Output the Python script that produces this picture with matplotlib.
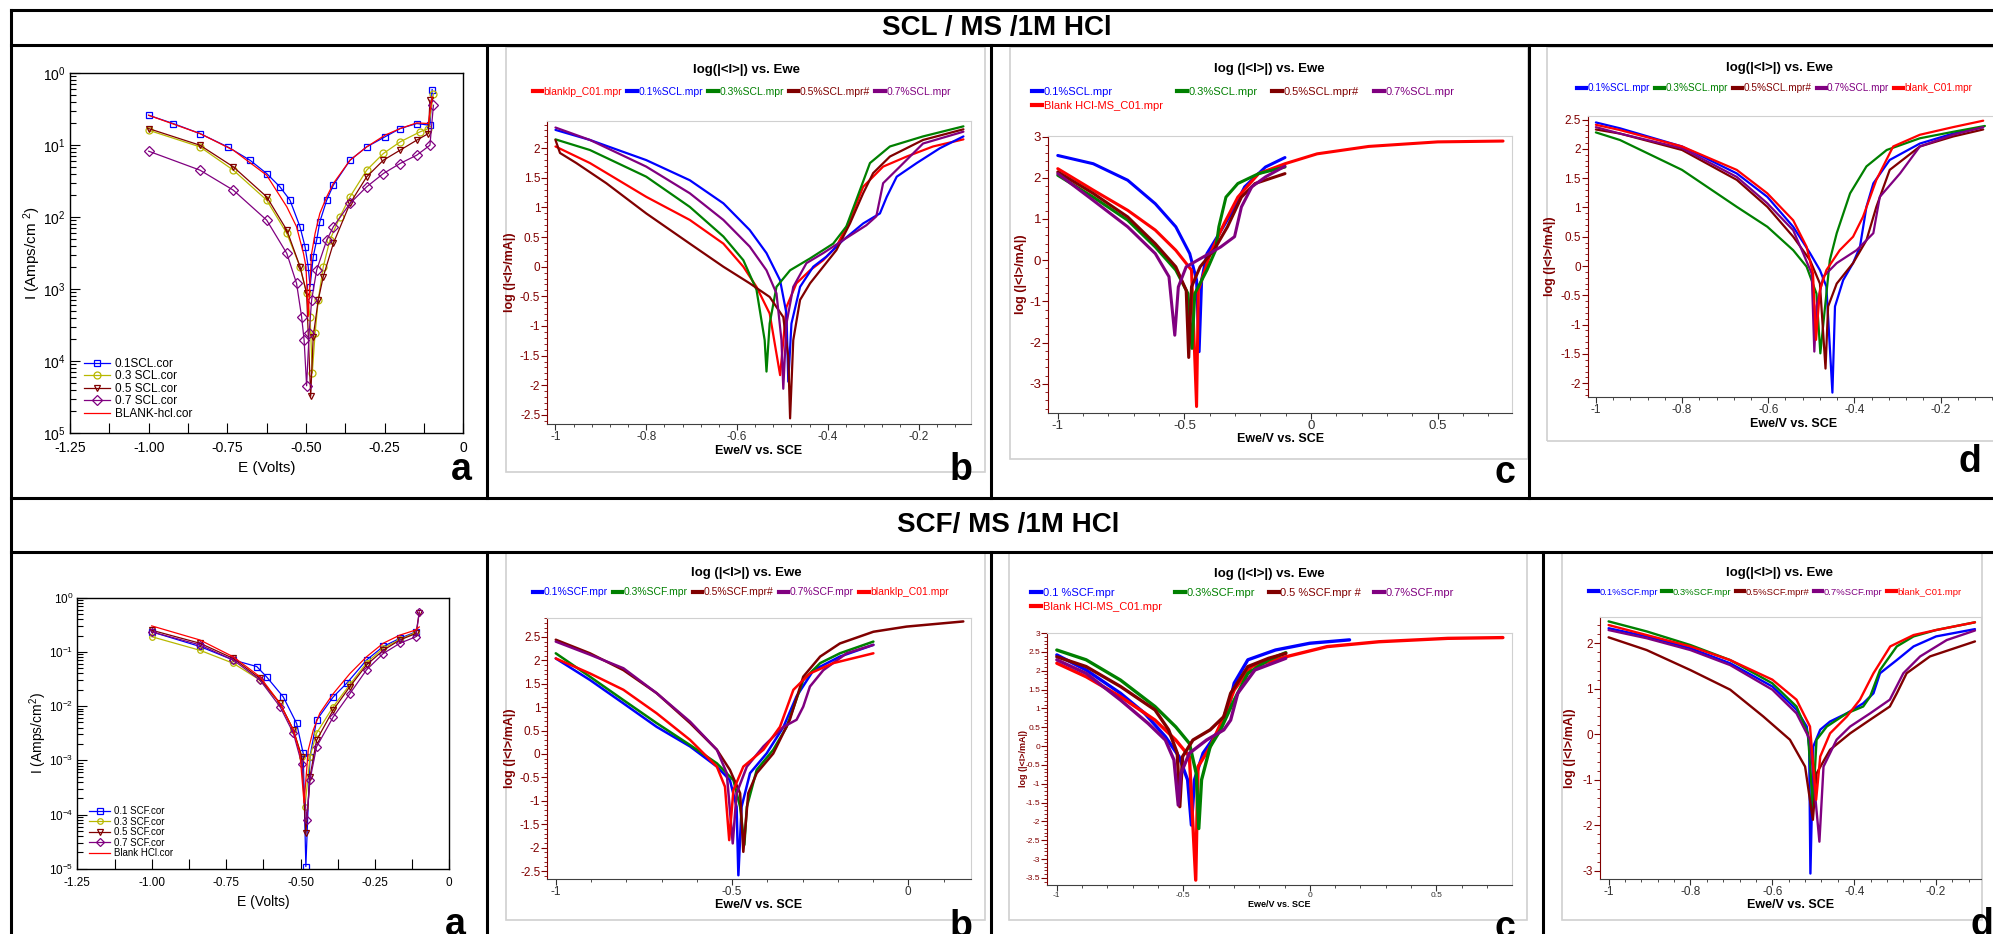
import matplotlib
matplotlib.use("Agg")
import matplotlib.pyplot as plt
from matplotlib.lines import Line2D
from matplotlib.patches import Rectangle
from matplotlib.ticker import AutoMinorLocator, FuncFormatter, LogLocator, NullFormatter

plt.rcParams['font.family'] = ['Liberation Sans', 'DejaVu Sans']
plt.rcParams['mathtext.default'] = 'regular'
NARROW = ['Liberation Sans', 'DejaVu Sans']

BLUE, GREEN, DRED, PURPLE, RED, OLIVE = '#0000ff', '#008000', '#800000', '#800080', '#ff0000', '#b8b800'

# ---------------- data: E (V) and log10 current ----------------
# row 1, panel a (SCL, .cor files, log10 of A/cm2)
a1_blue_E = [-1.000, -0.922, -0.837, -0.749, -0.678, -0.625, -0.583, -0.551, -0.519, -0.503, -0.493, -0.487, -0.477, -0.466, -0.456, -0.434, -0.413, -0.360, -0.307, -0.249, -0.201, -0.148, -0.106, -0.099]
a1_blue_L = [-0.587, -0.702, -0.841, -1.026, -1.211, -1.396, -1.580, -1.765, -2.135, -2.412, -2.689, -2.967, -2.551, -2.320, -2.066, -1.765, -1.557, -1.211, -1.026, -0.887, -0.772, -0.702, -0.726, -0.231]
a1_olive_E = [-1.000, -0.837, -0.731, -0.625, -0.561, -0.519, -0.498, -0.487, -0.480, -0.471, -0.461, -0.445, -0.424, -0.392, -0.360, -0.307, -0.254, -0.201, -0.138, -0.111, -0.095]
a1_olive_L = [-0.795, -1.026, -1.349, -1.765, -2.227, -2.689, -3.059, -3.383, -4.168, -3.614, -3.152, -2.689, -2.320, -1.996, -1.719, -1.349, -1.118, -0.957, -0.818, -0.772, -0.287]
a1_dred_E = [-1.000, -0.837, -0.731, -0.625, -0.561, -0.519, -0.498, -0.485, -0.477, -0.461, -0.445, -0.413, -0.360, -0.307, -0.254, -0.201, -0.148, -0.111, -0.106]
a1_dred_L = [-0.772, -1.003, -1.303, -1.719, -2.181, -2.689, -3.059, -4.492, -3.660, -3.152, -2.828, -2.366, -1.811, -1.442, -1.211, -1.072, -0.933, -0.841, -0.379]
a1_purple_E = [-1.000, -0.837, -0.731, -0.625, -0.561, -0.530, -0.514, -0.506, -0.498, -0.490, -0.482, -0.466, -0.434, -0.413, -0.360, -0.307, -0.254, -0.201, -0.148, -0.106, -0.095]
a1_purple_L = [-1.086, -1.349, -1.627, -2.043, -2.505, -2.921, -3.383, -3.706, -4.344, -3.614, -3.152, -2.736, -2.320, -2.135, -1.811, -1.580, -1.396, -1.257, -1.141, -1.003, -0.448]
a1_red_E = [-1.000, -0.837, -0.731, -0.625, -0.561, -0.530, -0.508, -0.500, -0.493, -0.482, -0.471, -0.456, -0.434, -0.413, -0.360, -0.307, -0.249, -0.201, -0.148, -0.111, -0.099]
a1_red_L = [-0.587, -0.841, -1.072, -1.419, -1.858, -2.135, -2.505, -2.689, -3.383, -2.505, -2.227, -1.950, -1.719, -1.534, -1.211, -1.026, -0.864, -0.772, -0.693, -0.702, -0.333]
a1_labels = ['0.1SCL.cor', '0.3 SCL.cor', '0.5 SCL.cor', '0.7 SCL.cor', 'BLANK-hcl.cor']
a1_ylabels = ['10$^{5}$', '10$^{4}$', '10$^{3}$', '10$^{2}$', '10$^{1}$', '10$^{0}$']

# row 1, panel b (log(|I|/mA))
b1_red_E = [-1, -0.924, -0.8, -0.704, -0.630, -0.586, -0.557, -0.528, -0.505, -0.491, -0.469, -0.439, -0.410, -0.381, -0.351, -0.322, -0.278, -0.226, -0.168, -0.101]
b1_red_L = [2.03, 1.75, 1.18, 0.79, 0.39, 0.0, -0.34, -0.79, -1.83, -0.68, -0.28, -0.06, 0.11, 0.34, 0.79, 1.35, 1.69, 1.86, 2.03, 2.15]
b1_blue_E = [-1, -0.924, -0.8, -0.704, -0.630, -0.572, -0.535, -0.505, -0.491, -0.487, -0.480, -0.461, -0.432, -0.403, -0.366, -0.322, -0.285, -0.270, -0.248, -0.204, -0.153, -0.101]
b1_blue_L = [2.31, 2.14, 1.80, 1.46, 1.07, 0.62, 0.23, -0.23, -0.79, -1.94, -0.96, -0.34, 0.0, 0.17, 0.45, 0.73, 0.90, 1.18, 1.52, 1.75, 2.0, 2.20]
b1_green_E = [-1, -0.924, -0.8, -0.704, -0.630, -0.586, -0.557, -0.539, -0.535, -0.528, -0.513, -0.483, -0.439, -0.388, -0.359, -0.337, -0.307, -0.263, -0.190, -0.101]
b1_green_L = [2.15, 1.97, 1.52, 1.01, 0.51, 0.11, -0.39, -1.24, -1.77, -0.96, -0.34, -0.06, 0.14, 0.39, 0.68, 1.13, 1.75, 2.03, 2.20, 2.37]
b1_dred_E = [-1, -0.990, -0.954, -0.888, -0.8, -0.704, -0.630, -0.572, -0.528, -0.498, -0.487, -0.483, -0.476, -0.461, -0.439, -0.410, -0.381, -0.351, -0.322, -0.300, -0.263, -0.190, -0.101]
b1_dred_L = [2.14, 1.92, 1.75, 1.41, 0.90, 0.39, 0.0, -0.28, -0.51, -0.85, -1.52, -2.56, -1.24, -0.56, -0.28, 0.0, 0.28, 0.73, 1.24, 1.58, 1.86, 2.14, 2.32]
b1_purple_E = [-1, -0.924, -0.8, -0.704, -0.630, -0.572, -0.535, -0.513, -0.502, -0.498, -0.491, -0.476, -0.447, -0.410, -0.366, -0.315, -0.293, -0.278, -0.241, -0.190, -0.101]
b1_purple_L = [2.35, 2.14, 1.69, 1.24, 0.79, 0.34, -0.06, -0.45, -1.24, -2.06, -0.96, -0.34, 0.06, 0.23, 0.45, 0.70, 0.85, 1.41, 1.69, 2.08, 2.28]
b1_labels = ['blanklp_C01.mpr', '0.1%SCL.mpr', '0.3%SCL.mpr', '0.5%SCL.mpr#', '0.7%SCL.mpr']

# row 1, panel c
c1_blue_E = [-1, -0.860, -0.724, -0.615, -0.534, -0.479, -0.452, -0.442, -0.432, -0.411, -0.370, -0.316, -0.262, -0.180, -0.103]
c1_blue_L = [2.54, 2.34, 1.94, 1.37, 0.81, 0.16, -0.48, -2.22, -0.48, 0.16, 0.57, 1.13, 1.78, 2.26, 2.49]
c1_green_E = [-1, -0.860, -0.724, -0.615, -0.534, -0.486, -0.470, -0.459, -0.411, -0.377, -0.364, -0.336, -0.289, -0.207, -0.103]
c1_green_L = [2.06, 1.53, 0.97, 0.32, -0.24, -0.81, -2.14, -0.81, -0.24, 0.24, 0.81, 1.53, 1.86, 2.10, 2.26]
c1_dred_E = [-1, -0.860, -0.724, -0.615, -0.534, -0.493, -0.483, -0.472, -0.438, -0.384, -0.330, -0.275, -0.221, -0.103]
c1_dred_L = [2.14, 1.62, 1.05, 0.40, -0.16, -0.73, -2.36, -0.65, -0.16, 0.24, 0.81, 1.53, 1.86, 2.10]
c1_purple_E = [-1, -0.860, -0.724, -0.615, -0.561, -0.538, -0.524, -0.493, -0.425, -0.357, -0.302, -0.275, -0.234, -0.180, -0.103]
c1_purple_L = [2.10, 1.45, 0.81, 0.16, -0.40, -1.82, -0.65, -0.16, 0.08, 0.32, 0.57, 1.29, 1.78, 2.02, 2.28]
c1_red_E = [-1, -0.860, -0.724, -0.615, -0.534, -0.472, -0.452, -0.445, -0.398, -0.343, -0.289, -0.207, -0.103, 0.024, 0.228, 0.500, 0.758]
c1_red_L = [2.22, 1.70, 1.21, 0.73, 0.24, -0.24, -3.55, -0.73, 0.16, 0.89, 1.53, 2.10, 2.34, 2.58, 2.76, 2.87, 2.89]
c1_labels = ['0.1%SCL.mpr', 'Blank HCl-MS_C01.mpr', '0.3%SCL.mpr', '0.5%SCL.mpr#', '0.7%SCL.mpr']

# row 1, panel d
d1_blue_E = [-1, -0.944, -0.8, -0.673, -0.602, -0.542, -0.503, -0.480, -0.465, -0.451, -0.445, -0.426, -0.403, -0.387, -0.372, -0.356, -0.318, -0.248, -0.171, -0.101]
d1_blue_L = [2.45, 2.35, 2.04, 1.58, 1.18, 0.67, 0.22, -0.07, -0.35, -2.16, -0.69, -0.24, 0.05, 0.33, 1.01, 1.41, 1.81, 2.09, 2.26, 2.37]
d1_green_E = [-1, -0.944, -0.8, -0.673, -0.602, -0.542, -0.511, -0.488, -0.479, -0.468, -0.457, -0.441, -0.410, -0.372, -0.325, -0.248, -0.171, -0.097]
d1_green_L = [2.28, 2.15, 1.64, 1.01, 0.67, 0.27, -0.01, -0.47, -1.49, -0.69, 0.10, 0.56, 1.24, 1.70, 1.98, 2.18, 2.29, 2.39]
d1_dred_E = [-1, -0.944, -0.8, -0.673, -0.602, -0.542, -0.503, -0.480, -0.467, -0.461, -0.441, -0.403, -0.372, -0.349, -0.318, -0.248, -0.171, -0.101]
d1_dred_L = [2.33, 2.26, 1.98, 1.47, 1.01, 0.50, 0.10, -0.30, -1.75, -0.69, -0.30, 0.05, 0.44, 1.01, 1.64, 2.04, 2.21, 2.33]
d1_purple_E = [-1, -0.944, -0.8, -0.673, -0.602, -0.542, -0.519, -0.499, -0.493, -0.488, -0.472, -0.441, -0.395, -0.356, -0.341, -0.294, -0.248, -0.171, -0.101]
d1_purple_L = [2.37, 2.26, 2.01, 1.52, 1.07, 0.61, 0.22, -0.13, -1.46, -0.69, -0.18, 0.05, 0.27, 0.56, 1.18, 1.58, 2.04, 2.24, 2.37]
d1_red_E = [-1, -0.944, -0.8, -0.673, -0.602, -0.542, -0.511, -0.496, -0.489, -0.480, -0.465, -0.434, -0.403, -0.380, -0.349, -0.310, -0.248, -0.171, -0.101]
d1_red_L = [2.41, 2.32, 2.04, 1.64, 1.24, 0.78, 0.33, -0.13, -1.26, -0.41, -0.07, 0.27, 0.50, 0.84, 1.47, 2.04, 2.24, 2.37, 2.48]
d1_labels = ['0.1%SCL.mpr', '0.3%SCL.mpr', '0.5%SCL.mpr#', '0.7%SCL.mpr', 'blank_C01.mpr']

# row 2, panel a (SCF, .cor files)
a2_blue_E = [-1.0, -0.838, -0.726, -0.647, -0.614, -0.558, -0.513, -0.491, -0.482, -0.468, -0.446, -0.390, -0.345, -0.278, -0.222, -0.166, -0.112]
a2_blue_L = [-0.63, -0.90, -1.15, -1.27, -1.46, -1.83, -2.32, -2.87, -4.96, -2.93, -2.26, -1.83, -1.58, -1.15, -0.90, -0.75, -0.63]
a2_olive_E = [-1.0, -0.838, -0.726, -0.636, -0.569, -0.524, -0.496, -0.485, -0.468, -0.446, -0.390, -0.334, -0.278, -0.222, -0.166, -0.112]
a2_olive_L = [-0.72, -0.97, -1.21, -1.52, -1.95, -2.44, -2.93, -3.86, -2.93, -2.50, -2.01, -1.60, -1.20, -0.93, -0.77, -0.64]
a2_dred_E = [-1.0, -0.838, -0.726, -0.636, -0.569, -0.524, -0.496, -0.482, -0.468, -0.446, -0.390, -0.334, -0.278, -0.222, -0.166, -0.112, -0.101]
a2_dred_L = [-0.60, -0.84, -1.12, -1.49, -1.95, -2.44, -2.93, -4.35, -3.30, -2.63, -2.07, -1.64, -1.24, -0.97, -0.78, -0.66, -0.28]
a2_purple_E = [-1.0, -0.838, -0.726, -0.636, -0.569, -0.524, -0.496, -0.479, -0.468, -0.446, -0.390, -0.334, -0.278, -0.222, -0.166, -0.112, -0.101]
a2_purple_L = [-0.63, -0.87, -1.15, -1.52, -2.01, -2.50, -3.06, -4.10, -3.36, -2.75, -2.20, -1.77, -1.33, -1.03, -0.84, -0.72, -0.26]
a2_red_E = [-1.0, -0.838, -0.726, -0.636, -0.569, -0.524, -0.502, -0.488, -0.474, -0.457, -0.435, -0.390, -0.334, -0.278, -0.222, -0.166, -0.115, -0.101]
a2_red_L = [-0.52, -0.78, -1.09, -1.46, -1.95, -2.44, -2.87, -3.79, -2.81, -2.44, -2.13, -1.77, -1.40, -1.09, -0.84, -0.69, -0.60, -0.54]
a2_labels = ['0.1 SCF.cor', '0.3 SCF.cor', '0.5 SCF.cor', '0.7 SCF.cor', 'Blank HCl.cor']
a2_ylabels = ['10$^{-5}$', '10$^{-4}$', '10$^{-3}$', '10$^{-2}$', '10$^{-1}$', '10$^{0}$']

# row 2, panel b
b2_blue_E = [-1, -0.903, -0.808, -0.714, -0.619, -0.543, -0.506, -0.487, -0.482, -0.473, -0.449, -0.402, -0.354, -0.317, -0.269, -0.194, -0.099]
b2_blue_L = [2.04, 1.58, 1.08, 0.58, 0.16, -0.27, -0.56, -1.13, -2.59, -1.13, -0.41, 0.01, 0.58, 1.23, 1.79, 2.08, 2.33]
b2_green_E = [-1, -0.903, -0.808, -0.714, -0.619, -0.543, -0.496, -0.477, -0.465, -0.458, -0.430, -0.383, -0.345, -0.298, -0.250, -0.194, -0.099]
b2_green_L = [2.15, 1.65, 1.15, 0.66, 0.19, -0.20, -0.56, -1.13, -1.94, -1.13, -0.34, 0.09, 0.58, 1.58, 1.94, 2.15, 2.40]
b2_dred_E = [-1, -0.903, -0.808, -0.714, -0.619, -0.543, -0.506, -0.477, -0.468, -0.454, -0.430, -0.383, -0.336, -0.298, -0.250, -0.194, -0.099, -0.005, 0.156]
b2_dred_L = [2.44, 2.15, 1.79, 1.30, 0.66, 0.09, -0.34, -0.84, -2.09, -0.84, -0.41, 0.01, 0.73, 1.65, 2.08, 2.36, 2.61, 2.72, 2.83]
b2_purple_E = [-1, -0.903, -0.808, -0.714, -0.619, -0.543, -0.515, -0.498, -0.487, -0.458, -0.411, -0.354, -0.317, -0.298, -0.279, -0.241, -0.175, -0.099]
b2_purple_L = [2.40, 2.12, 1.83, 1.30, 0.69, 0.09, -0.41, -1.91, -0.84, -0.27, 0.16, 0.58, 0.73, 1.01, 1.44, 1.79, 2.15, 2.33]
b2_red_E = [-1, -0.903, -0.808, -0.714, -0.619, -0.543, -0.520, -0.508, -0.496, -0.468, -0.411, -0.364, -0.326, -0.279, -0.213, -0.099]
b2_red_L = [2.04, 1.72, 1.37, 0.87, 0.30, -0.27, -0.70, -1.84, -0.77, -0.27, 0.09, 0.58, 1.37, 1.72, 1.94, 2.15]
b2_labels = ['0.1%SCF.mpr', '0.3%SCF.mpr', '0.5%SCF.mpr#', '0.7%SCF.mpr', 'blanklp_C01.mpr']

# row 2, panel c
c2_blue_E = [-1, -0.884, -0.748, -0.653, -0.571, -0.517, -0.483, -0.468, -0.456, -0.422, -0.367, -0.326, -0.299, -0.245, -0.136, 0.0, 0.157]
c2_blue_L = [2.42, 2.02, 1.40, 0.87, 0.25, -0.28, -0.90, -2.10, -0.90, -0.19, 0.34, 0.87, 1.67, 2.29, 2.55, 2.73, 2.82]
c2_green_E = [-1, -0.884, -0.748, -0.612, -0.530, -0.476, -0.449, -0.439, -0.428, -0.394, -0.353, -0.299, -0.245, -0.163, -0.095]
c2_green_L = [2.55, 2.29, 1.75, 1.05, 0.51, 0.07, -0.73, -2.19, -0.90, -0.02, 0.43, 1.22, 1.93, 2.29, 2.48]
c2_dred_E = [-1, -0.884, -0.748, -0.612, -0.558, -0.524, -0.514, -0.503, -0.462, -0.394, -0.340, -0.313, -0.245, -0.163, -0.095]
c2_dred_L = [2.37, 2.11, 1.58, 0.96, 0.43, -0.19, -1.61, -0.28, 0.16, 0.43, 0.78, 1.40, 2.11, 2.33, 2.46]
c2_purple_E = [-1, -0.884, -0.748, -0.639, -0.571, -0.537, -0.520, -0.510, -0.476, -0.408, -0.340, -0.313, -0.285, -0.217, -0.095]
c2_purple_L = [2.29, 1.93, 1.22, 0.60, 0.16, -0.37, -1.57, -0.73, -0.19, 0.16, 0.43, 0.69, 1.40, 2.02, 2.33]
c2_red_E = [-1, -0.884, -0.748, -0.612, -0.530, -0.476, -0.451, -0.442, -0.394, -0.340, -0.299, -0.231, -0.095, 0.068, 0.273, 0.545, 0.763]
c2_red_L = [2.20, 1.84, 1.31, 0.69, 0.16, -0.28, -3.56, -0.55, -0.02, 0.78, 1.49, 2.11, 2.37, 2.64, 2.77, 2.86, 2.88]
c2_labels = ['0.1 %SCF.mpr', 'Blank HCl-MS_C01.mpr', '0.3%SCF.mpr', '0.5 %SCF.mpr #', '0.7%SCF.mpr']

# row 2, panel d
d2_blue_E = [-1, -0.907, -0.8, -0.703, -0.6, -0.541, -0.516, -0.510, -0.507, -0.500, -0.483, -0.459, -0.418, -0.378, -0.353, -0.337, -0.296, -0.255, -0.2, -0.105]
d2_blue_L = [2.33, 2.15, 1.89, 1.56, 1.05, 0.54, 0.17, -0.27, -3.06, -0.27, 0.10, 0.28, 0.46, 0.68, 0.90, 1.34, 1.63, 1.93, 2.15, 2.31]
d2_green_E = [-1, -0.907, -0.8, -0.703, -0.6, -0.541, -0.513, -0.501, -0.492, -0.467, -0.418, -0.378, -0.361, -0.337, -0.296, -0.255, -0.2, -0.105]
d2_green_L = [2.48, 2.26, 1.96, 1.63, 1.12, 0.61, 0.02, -1.59, -0.12, 0.17, 0.46, 0.61, 0.83, 1.41, 1.93, 2.15, 2.29, 2.46]
d2_dred_E = [-1, -0.907, -0.8, -0.703, -0.622, -0.557, -0.520, -0.501, -0.492, -0.459, -0.410, -0.361, -0.313, -0.296, -0.272, -0.215, -0.105]
d2_dred_L = [2.13, 1.85, 1.41, 0.98, 0.39, -0.12, -0.71, -1.88, -0.86, -0.34, 0.02, 0.32, 0.61, 0.90, 1.34, 1.71, 2.04]
d2_purple_E = [-1, -0.907, -0.8, -0.703, -0.6, -0.541, -0.508, -0.485, -0.475, -0.443, -0.410, -0.361, -0.313, -0.280, -0.239, -0.174, -0.105]
d2_purple_L = [2.29, 2.11, 1.85, 1.52, 0.98, 0.46, -0.12, -2.36, -0.71, -0.12, 0.17, 0.46, 0.76, 1.34, 1.71, 2.07, 2.28]
d2_red_E = [-1, -0.907, -0.8, -0.703, -0.6, -0.541, -0.508, -0.493, -0.483, -0.459, -0.418, -0.386, -0.353, -0.312, -0.255, -0.2, -0.105]
d2_red_L = [2.40, 2.18, 1.93, 1.63, 1.20, 0.76, 0.17, -1.44, -0.49, 0.02, 0.39, 0.76, 1.34, 1.93, 2.18, 2.29, 2.46]
d2_labels = ['0.1%SCF.mpr', '0.3%SCF.mpr', '0.5%SCF.mpr#', '0.7%SCF.mpr', 'blank_C01.mpr']

cor_xticks = [-1.25, -1.0, -0.75, -0.5, -0.25, 0.0]
cor_xlabels = ['-1.25', '-1.00', '-0.75', '-0.50', '-0.25', '0']

# ---------------- figure and table frame ----------------
W, H = 1993, 934
fig = plt.figure(figsize=(W / 100, H / 100), dpi=100)


def fx(x):
    return x / W


def fy(y):
    return 1 - y / H


def box(l, t, r, b):
    return [l / W, 1 - b / H, (r - l) / W, (b - t) / H]


def hline(y, x0=11, x1=W):
    fig.add_artist(Line2D([fx(x0), fx(x1)], [fy(y), fy(y)], transform=fig.transFigure, color='black', lw=2.2))


def vline(x, y0, y1):
    fig.add_artist(Line2D([fx(x), fx(x)], [fy(y0), fy(y1)], transform=fig.transFigure, color='black', lw=2.2))


for y in [10, 45, 497.5, 552]:
    hline(y)
vline(11, 10, H)
for x in [487, 991, 1529]:
    vline(x, 45, 497.5)
for x in [487, 991, 1543]:
    vline(x, 552, H)

fig.text(fx(997), fy(27.5), 'SCL / MS /1M HCl', ha='center', va='center', fontsize=20, fontweight='bold')
fig.text(fx(1008), fy(525), 'SCF/ MS /1M HCl', ha='center', va='center', fontsize=20, fontweight='bold')

fmt = FuncFormatter(lambda v, p: '%g' % round(v, 3))


def letter(x, y, s):
    fig.text(fx(x), fy(y), s, ha='center', va='baseline', fontsize=27, fontweight='bold')


# ---------------- SigmaPlot style panels (a) ----------------
def cor_panel(b, curves, labels, ylabels, ylab, tfs, lfs, ms, legfs, leg_at, ylx):
    ax = fig.add_axes(box(*b))
    for E, L, c, m in curves:
        ax.plot(E, [10 ** v for v in L], color=c, lw=0.9, marker=m, mfc='none', ms=ms, mew=0.9)
    ax.set_yscale('log')
    ax.set_xlim(-1.25, 0)
    ax.set_ylim(1e-5, 1)
    ax.set_xticks(cor_xticks, cor_xlabels)
    ax.xaxis.set_minor_locator(AutoMinorLocator(2))
    ax.set_yticks([1e-5, 1e-4, 1e-3, 1e-2, 1e-1, 1], ylabels)
    ax.yaxis.set_minor_locator(LogLocator(base=10, subs=range(2, 10)))
    ax.yaxis.set_minor_formatter(NullFormatter())
    ax.tick_params(which='both', direction='in', width=0.8)
    ax.tick_params(axis='x', which='both', length=7, pad=6)
    ax.tick_params(axis='y', which='major', length=7, pad=3)
    ax.tick_params(axis='y', which='minor', length=4)
    for t in ax.get_xticklabels() + ax.get_yticklabels():
        t.set_fontfamily(NARROW)
        t.set_fontsize(tfs)
    for s in ax.spines.values():
        s.set_linewidth(1.0)
    ax.set_xlabel('E (Volts)', fontsize=lfs, family=NARROW, labelpad=4)
    ax.set_ylabel(ylab, fontsize=lfs, family=NARROW)
    ax.yaxis.set_label_coords(ylx, 0.5)
    ax.legend(labels, loc='lower left', bbox_to_anchor=(fx(leg_at[0]), fy(leg_at[1])),
              bbox_transform=fig.transFigure, frameon=False, borderpad=0, borderaxespad=0,
              handlelength=2.2, handletextpad=0.4, labelspacing=0.05, numpoints=1,
              prop={'family': NARROW, 'size': legfs})
    return ax


cor_panel((70, 73, 463.3, 433),
          [(a1_blue_E, a1_blue_L, BLUE, 's'), (a1_olive_E, a1_olive_L, OLIVE, 'o'),
           (a1_dred_E, a1_dred_L, DRED, 'v'), (a1_purple_E, a1_purple_L, PURPLE, 'D'),
           (a1_red_E, a1_red_L, RED, None)],
          a1_labels, a1_ylabels, 'I (Amps/cm $^{2}$)', 10, 11, 5, 8.5, (84, 420), -0.069)
letter(461, 480, 'a')

cor_panel((77.3, 597.7, 449.3, 868.7),
          [(a2_blue_E, a2_blue_L, BLUE, 's'), (a2_olive_E, a2_olive_L, OLIVE, 'o'),
           (a2_dred_E, a2_dred_L, DRED, 'v'), (a2_purple_E, a2_purple_L, PURPLE, 'D'),
           (a2_red_E, a2_red_L, RED, None)],
          a2_labels, a2_ylabels, 'I (Amps/cm$^{2}$)', 8.5, 10, 4, 7, (89, 858), -0.076)
letter(455, 935, 'a')


# ---------------- EC-Lab style panels (b, c, d) ----------------
def mpr_panel(b, frame, curves, labels, xlim, ylim, xt, yt, title, title_at, leg_at, ncol, ylx,
              lw=1.6, tfs=8.5, lfs=9, titlefs=9.5, legfs=7.5, colsp=0.5, xminor=5, yminor=5):
    fl, ft, fr, fb = frame
    fig.add_artist(Rectangle((fx(fl), fy(fb)), (fr - fl) / W, (fb - ft) / H, transform=fig.transFigure,
                             fill=False, edgecolor='#d0d0d0', lw=1.2, zorder=0))
    ax = fig.add_axes(box(*b))
    handles = []
    for E, L, c in curves:
        ax.plot(E, L, color=c, lw=lw, solid_joinstyle='round', solid_capstyle='round')
        handles.append(Line2D([], [], color=c, lw=3))
    ax.set_xlim(*xlim)
    ax.set_ylim(*ylim)
    ax.set_xticks(xt)
    ax.set_yticks(yt)
    ax.xaxis.set_major_formatter(fmt)
    ax.yaxis.set_major_formatter(fmt)
    ax.xaxis.set_minor_locator(AutoMinorLocator(xminor))
    ax.yaxis.set_minor_locator(AutoMinorLocator(yminor))
    ax.tick_params(which='both', direction='out', pad=1)
    ax.tick_params(which='major', length=4)
    ax.tick_params(which='minor', length=2)
    ax.tick_params(axis='y', which='both', colors=DRED)
    ax.tick_params(axis='x', which='both', colors='#303030')
    for t in ax.get_xticklabels() + ax.get_yticklabels():
        t.set_fontfamily(NARROW)
        t.set_fontsize(tfs)
    ax.spines['left'].set_color(DRED)
    ax.spines['bottom'].set_color('#404040')
    ax.spines['top'].set_color('#d0d0d0')
    ax.spines['right'].set_color('#d0d0d0')
    ax.set_xlabel('Ewe/V vs. SCE', fontsize=lfs, fontweight='bold', family=NARROW, labelpad=1)
    ax.set_ylabel('log (|<I>/mA|)', fontsize=lfs, fontweight='bold', family=NARROW, color=DRED)
    ax.yaxis.set_label_coords(ylx, 0.5)
    fig.text(fx(title_at[0]), fy(title_at[1]), title, ha='center', va='center',
             fontsize=titlefs, fontweight='bold', family=NARROW)
    leg = ax.legend(handles, labels, loc='center left', bbox_to_anchor=(fx(leg_at[0]), fy(leg_at[1])),
                    bbox_transform=fig.transFigure, ncol=ncol, frameon=False, borderpad=0,
                    borderaxespad=0, handlelength=0.9, handletextpad=0.15, columnspacing=colsp,
                    labelspacing=0.3, prop={'family': NARROW, 'size': legfs})
    for t, h in zip(leg.get_texts(), handles):
        t.set_color(h.get_color())
    return ax


mpr_panel((547.3, 121, 970.7, 424.3), (505.7, 47, 985, 472),
          [(b1_red_E, b1_red_L, RED), (b1_blue_E, b1_blue_L, BLUE), (b1_green_E, b1_green_L, GREEN),
           (b1_dred_E, b1_dred_L, DRED), (b1_purple_E, b1_purple_L, PURPLE)],
          b1_labels, (-1.018, -0.085), (-2.66, 2.46), [-1, -0.8, -0.6, -0.4, -0.2],
          [-2.5, -2, -1.5, -1, -0.5, 0, 0.5, 1, 1.5, 2], 'log(|<I>|) vs. Ewe', (746.7, 70), (532.7, 91.7), 5,
          -0.074, legfs=7.5)
letter(961, 480, 'b')

mpr_panel((1047.9, 135.7, 1512.4, 412.7), (1009.6, 47, 1528.3, 459),
          [(c1_blue_E, c1_blue_L, BLUE), (c1_red_E, c1_red_L, RED), (c1_green_E, c1_green_L, GREEN),
           (c1_dred_E, c1_dred_L, DRED), (c1_purple_E, c1_purple_L, PURPLE)],
          c1_labels, (-1.039, 0.795), (-3.70, 3.02), [-1, -0.5, 0, 0.5], [-3, -2, -1, 0, 1, 2, 3],
          'log (|<I>|) vs. Ewe', (1269.6, 69.3), (1032, 98.9), 4, -0.045, lw=2.2, tfs=9.5, legfs=8, colsp=1.3)
letter(1505, 483, 'c')

mpr_panel((1587.7, 116, 2000, 397.3), (1547.3, 47, 2010, 441),
          [(d1_blue_E, d1_blue_L, BLUE), (d1_green_E, d1_green_L, GREEN), (d1_dred_E, d1_dred_L, DRED),
           (d1_purple_E, d1_purple_L, PURPLE), (d1_red_E, d1_red_L, RED)],
          d1_labels, (-1.019, -0.062), (-2.24, 2.56), [-1, -0.8, -0.6, -0.4, -0.2],
          [-2, -1.5, -1, -0.5, 0, 0.5, 1, 1.5, 2, 2.5], 'log(|<I>|) vs. Ewe', (1779.3, 68.3), (1577.3, 88.3), 5,
          -0.076, legfs=7.2)
letter(1970, 472, 'd')

mpr_panel((547.3, 617.7, 970.7, 879), (505.7, 552.7, 985, 920),
          [(b2_blue_E, b2_blue_L, BLUE), (b2_green_E, b2_green_L, GREEN), (b2_dred_E, b2_dred_L, DRED),
           (b2_purple_E, b2_purple_L, PURPLE), (b2_red_E, b2_red_L, RED)],
          b2_labels, (-1.024, 0.177), (-2.67, 2.91), [-1, -0.5, 0],
          [-2.5, -2, -1.5, -1, -0.5, 0, 0.5, 1, 1.5, 2, 2.5], 'log (|<I>|) vs. Ewe', (746.7, 573.3), (532.7, 592.3), 5,
          -0.074, lw=1.8, legfs=7.5)
letter(961, 937, 'b')

mpr_panel((1047.2, 632.7, 1512, 885), (1009.3, 552.7, 1526.9, 920),
          [(c2_blue_E, c2_blue_L, BLUE), (c2_red_E, c2_red_L, RED), (c2_green_E, c2_green_L, GREEN),
           (c2_dred_E, c2_dred_L, DRED), (c2_purple_E, c2_purple_L, PURPLE)],
          c2_labels, (-1.038, 0.799), (-3.69, 3.01), [-1, -0.5, 0, 0.5],
          [-3.5, -3, -2.5, -2, -1.5, -1, -0.5, 0, 0.5, 1, 1.5, 2, 2.5, 3], 'log (|<I>|) vs. Ewe',
          (1269.3, 574), (1031, 600), 4, -0.042, lw=2.4, tfs=6, lfs=6.5, legfs=8, colsp=1.2)
letter(1504.5, 938, 'c')

mpr_panel((1600, 617.3, 1980.7, 879), (1562.3, 552.7, 1981.7, 920),
          [(d2_blue_E, d2_blue_L, BLUE), (d2_green_E, d2_green_L, GREEN), (d2_dred_E, d2_dred_L, DRED),
           (d2_purple_E, d2_purple_L, PURPLE), (d2_red_E, d2_red_L, RED)],
          d2_labels, (-1.021, -0.091), (-3.18, 2.57), [-1, -0.8, -0.6, -0.4, -0.2],
          [-3, -2, -1, 0, 1, 2], 'log(|<I>|) vs. Ewe', (1779.3, 573.3), (1589.3, 592.3), 5,
          -0.062, lw=1.7, legfs=6.8)
letter(1982, 935, 'd')

fig.savefig('out.png', dpi=100)
